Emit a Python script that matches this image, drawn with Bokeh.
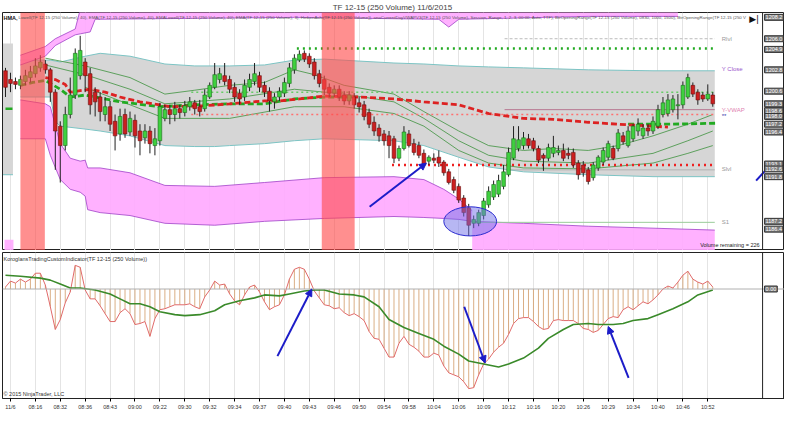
from bokeh.plotting import figure
from bokeh.layouts import column
from bokeh.models import (Range1d, FixedTicker, Label, Arrow, NormalHead, Span,
                          ColumnDataSource, BoxAnnotation)
from bokeh.embed import file_html
from bokeh.resources import INLINE

FONT = "Liberation Sans"

# ---------------- data ----------------
title_text = "TF 12-15 (250 Volume)  11/6/2015"
tick_bars = [1, 6, 11, 16, 21, 26, 31, 36, 41, 46, 51, 56, 61, 66, 71, 76, 81, 86,
             91, 96, 101, 106, 111, 116, 121, 126, 131, 136, 141]
tick_labels = ["11/6", "08:16", "08:32", "08:36", "08:43", "09:00", "09:22", "09:30",
               "09:32", "09:34", "09:37", "09:40", "09:43", "09:46", "09:50", "09:54",
               "09:58", "10:04", "10:06", "10:09", "10:12", "10:16", "10:20", "10:26",
               "10:29", "10:34", "10:40", "10:46", "10:52"]

opens = [1202.7,1201.8,1201.6,1201.2,1201.6,1202.0,1202.4,1203.0,1203.4,1202.8,
 1200.5,1197.0,1195.0,1198.2,1200.2,1202.2,1203.6,1202.4,1200.5,1200.0,
 1198.2,1199.0,1197.5,1196.2,1198.2,1196.4,1197.6,1196.5,1195.8,1196.5,
 1195.0,1195.5,1197.8,1198.7,1198.2,1198.8,1198.4,1199.0,1199.4,1199.0,
 1198.8,1200.0,1201.0,1201.8,1202.2,1201.8,1201.0,1200.4,1200.0,1201.0,
 1201.6,1202.2,1201.2,1200.6,1199.5,1200.0,1200.4,1201.4,1202.8,1203.8,
 1204.5,1204.2,1203.6,1202.4,1201.8,1201.0,1200.4,1200.8,1200.2,1199.6,
 1200.0,1199.4,1199.2,1198.4,1197.4,1196.8,1196.2,1196.0,1195.7,1193.7,
 1194.7,1196.2,1195.2,1195.0,1194.2,1193.4,1193.7,1193.8,1193.3,1192.3,
 1191.5,1190.8,1189.6,1188.6,1187.0,1187.0,1187.8,1188.9,1189.7,1190.0,
 1190.8,1192.0,1193.7,1194.7,1195.0,1195.7,1195.5,1194.7,1194.0,1193.7,
 1194.2,1194.3,1194.5,1194.2,1194.3,1193.2,1193.0,1192.5,1191.7,1192.7,
 1193.3,1193.8,1194.7,1194.7,1196.0,1195.0,1195.7,1196.5,1196.0,1196.8,
 1196.5,1197.0,1198.2,1198.3,1198.7,1199.1,1199.2,1200.0,1201.2,1200.5,
 1200.2,1199.8,1200.2]
closes = [1201.0,1201.4,1201.3,1201.8,1202.2,1202.6,1203.2,1203.6,1202.8,1200.5,
 1196.5,1195.0,1198.2,1200.2,1204.5,1204.8,1202.2,1199.2,1199.5,1198.5,
 1199.0,1197.2,1196.0,1198.0,1196.2,1197.8,1196.0,1195.5,1196.5,1195.2,
 1195.7,1199.0,1198.7,1198.2,1198.8,1198.4,1199.1,1199.5,1198.8,1198.5,
 1200.2,1201.2,1202.3,1202.4,1201.6,1200.8,1200.0,1199.8,1201.2,1201.8,
 1202.4,1201.0,1200.5,1199.6,1200.0,1200.6,1201.5,1203.0,1204.0,1204.4,
 1203.9,1203.4,1202.2,1201.4,1200.8,1200.4,1200.8,1200.0,1199.6,1200.2,
 1199.2,1199.0,1198.0,1197.2,1196.5,1196.0,1195.5,1195.0,1193.7,1194.7,
 1196.4,1195.0,1194.3,1194.0,1193.0,1193.8,1193.5,1193.2,1192.2,1191.2,
 1190.4,1189.4,1188.1,1186.8,1187.4,1188.1,1189.3,1190.3,1191.0,1191.4,
 1192.3,1194.3,1195.7,1195.6,1195.8,1195.0,1194.7,1193.5,1193.7,1194.8,
 1194.8,1194.5,1193.7,1194.0,1193.0,1192.0,1192.2,1191.3,1193.0,1193.8,
 1194.5,1195.2,1193.7,1196.3,1195.4,1196.5,1197.0,1197.2,1196.8,1196.5,
 1197.5,1198.7,1199.4,1199.7,1199.8,1199.2,1201.2,1202.0,1200.3,1199.7,
 1199.8,1200.3,1199.3]
highs = [1203.0,1202.5,1202.0,1202.2,1202.8,1203.2,1204.0,1204.3,1203.8,1203.0,
 1200.8,1197.5,1199.0,1202.0,1205.0,1206.3,1204.0,1203.0,1201.0,1200.5,
 1200.0,1199.6,1198.2,1198.8,1198.8,1198.5,1198.2,1197.2,1197.2,1197.0,
 1196.8,1199.4,1199.2,1199.2,1199.5,1199.2,1199.6,1200.0,1199.7,1199.7,
 1200.8,1201.5,1203.5,1203.0,1203.5,1202.2,1201.5,1200.8,1201.8,1202.4,
 1203.5,1202.6,1201.6,1201.0,1200.4,1201.0,1202.0,1203.5,1204.4,1204.8,
 1204.8,1204.5,1204.0,1202.8,1202.2,1201.4,1201.2,1201.2,1200.6,1200.6,
 1200.4,1200.0,1199.6,1198.8,1198.0,1197.2,1196.6,1196.5,1196.0,1195.0,
 1197.0,1196.6,1195.7,1195.4,1194.6,1194.0,1194.2,1194.5,1193.5,1192.6,
 1191.8,1191.1,1189.9,1189.0,1187.8,1188.4,1189.6,1190.8,1191.4,1192.0,
 1193.0,1194.8,1197.0,1197.0,1196.4,1196.2,1195.8,1195.0,1194.2,1195.2,
 1196.0,1195.0,1195.2,1194.8,1194.7,1193.5,1193.4,1192.8,1193.3,1194.0,
 1194.8,1195.5,1195.0,1196.7,1196.4,1197.0,1197.2,1197.8,1197.2,1197.2,
 1198.0,1199.2,1200.0,1200.3,1200.2,1200.3,1201.6,1202.4,1201.5,1200.8,
 1200.5,1201.3,1200.5]
lows = [1200.0,1200.5,1200.8,1200.8,1201.2,1201.5,1202.0,1202.6,1202.4,1199.5,
 1192.5,1191.2,1194.5,1197.8,1199.8,1201.8,1200.5,1198.2,1198.0,1197.5,
 1197.5,1196.5,1194.5,1195.5,1195.8,1196.0,1194.8,1194.0,1195.2,1194.2,
 1194.0,1195.0,1197.5,1197.2,1197.5,1197.8,1198.0,1198.6,1198.2,1198.0,
 1198.5,1199.8,1200.8,1201.4,1201.2,1200.4,1199.5,1199.2,1199.6,1200.6,
 1201.2,1200.5,1200.0,1198.5,1198.8,1199.6,1200.0,1201.0,1202.4,1203.6,
 1203.6,1203.0,1201.8,1201.0,1200.2,1200.0,1200.0,1199.6,1199.2,1199.2,
 1198.8,1198.4,1197.6,1196.8,1196.0,1195.4,1195.0,1193.7,1193.2,1193.4,
 1194.5,1194.8,1194.0,1193.7,1192.8,1193.0,1193.2,1192.8,1191.9,1191.0,
 1190.1,1189.1,1187.7,1185.7,1186.5,1186.7,1187.4,1188.6,1189.4,1189.7,
 1190.5,1191.8,1193.5,1194.4,1194.6,1194.7,1194.4,1193.2,1192.4,1193.4,
 1193.8,1194.0,1193.4,1193.6,1192.7,1191.5,1191.8,1191.0,1191.4,1192.4,
 1193.0,1193.5,1193.5,1194.4,1195.1,1194.8,1195.4,1196.0,1195.7,1196.0,
 1196.2,1196.7,1197.9,1198.0,1198.4,1197.7,1198.8,1199.8,1200.0,1199.2,
 1199.5,1199.6,1199.0]
bars = list(range(len(closes)))

osc = [0.2,0.8,0.6,1.0,0.7,1.0,1.6,1.6,0.4,-1.8,
 -4.1,-3.1,-1.4,-0.3,2.4,2.2,-0.1,-1.0,-1.0,-1.7,
 -2.5,-3.3,-3.3,-2.4,-2.0,-2.5,-3.6,-3.5,-3.3,-4.8,
 -3.0,-2.1,-2.0,-1.8,-1.6,-1.6,-1.6,-1.5,-1.8,-2.0,
 -0.8,-0.1,0.8,0.4,0.5,-0.5,-1.2,-1.6,-0.6,0.2,
 0.4,-0.3,-1.3,-2.1,-1.8,-1.6,-0.6,1.0,2.0,2.2,
 2.0,1.0,-0.2,-0.9,-1.6,-1.7,-2.0,-1.9,-2.4,-2.7,
 -2.5,-2.8,-3.2,-4.3,-5.0,-5.1,-6.0,-6.9,-6.9,-5.5,
 -4.8,-5.6,-5.9,-6.3,-6.9,-6.9,-6.5,-6.7,-7.8,-8.5,
 -8.7,-8.9,-9.4,-10.1,-10.0,-8.7,-7.6,-7.1,-6.4,-5.9,
 -5.5,-4.6,-3.5,-3.0,-2.9,-2.9,-3.3,-3.8,-4.1,-4.0,
 -3.2,-3.1,-3.2,-3.2,-3.2,-3.5,-4.0,-4.1,-4.4,-4.2,
 -3.6,-3.0,-2.8,-2.9,-2.1,-1.8,-2.1,-1.7,-1.3,-1.5,
 -1.1,-0.6,0.0,0.3,0.1,0.7,1.4,1.8,1.0,0.7,
 0.5,0.8,0.2]
sig_bars = [0,3,7,9,11,13,15,18,21,23,25,27,29,31,34,36,39,42,44,47,50,52,55,57,60,62,64,
            67,70,72,75,77,80,83,86,88,91,93,96,99,101,104,107,109,112,114,117,119,122,124,
            126,129,131,134,137,139,142]
sig = [1.4,1.3,1.1,0.9,0.5,0.1,0.1,-0.1,-0.5,-1.0,-1.5,-1.5,-1.8,-2.3,-2.6,-2.7,-2.6,-2.2,
       -1.6,-1.2,-0.9,-0.6,-0.7,-0.5,-0.2,-0.1,-0.1,-0.5,-0.6,-0.8,-1.8,-3.1,-3.9,-4.5,-5.1,
       -5.8,-6.6,-7.3,-7.6,-7.9,-7.6,-7.0,-6.0,-5.0,-4.1,-3.6,-3.5,-3.6,-3.6,-3.5,-3.2,-3.0,
       -2.6,-2.0,-1.3,-0.6,-0.1]

# gray envelope
gb_bars = [-0.5, 1.5]
gb_old_up = [1205.5, 1205.5]
gb_old_lo = [1192.0, 1192.0]
env_bars = [3, 9, 10, 11, 16, 19, 25, 32, 38, 42, 45, 52, 58, 64, 71, 78, 84, 91, 97, 104, 117, 130, 142.4]
env_up = [1203.8, 1203.8, 1203.7, 1203.6, 1204.2, 1204.5, 1204.2, 1203.4, 1203.2, 1203.2, 1203.2,
          1203.3, 1203.8, 1203.9, 1203.7, 1203.5, 1203.4, 1203.2, 1203.1, 1203.0, 1202.8, 1202.7, 1202.7]
env_lo = [1200.0, 1200.0, 1197.5, 1197.0, 1196.7, 1196.5, 1196.0, 1195.0, 1194.9, 1194.9, 1195.0,
          1195.2, 1195.5, 1195.7, 1195.6, 1195.5, 1195.0, 1193.8, 1192.8, 1192.3, 1192.0, 1191.8, 1191.8]

# magenta bands
mu_bars = [3, 8, 10, 14, 15, 17, 18, 58, 87, 89, 91, 117, 135]
mu_top = [1204.3, 1205.2, 1206.0, 1207.0, 1209.0, 1209.0, 1209.0, 1209.0, 1209.0, 1209.0, 1209.0, 1209.0, 1209.0]
mu_bot = [1203.3, 1204.2, 1205.3, 1206.4, 1206.5, 1206.7, 1208.0, 1208.2, 1208.0, 1207.2, 1208.0, 1208.3, 1208.3]
ma_bars = [3, 8, 9, 11, 13, 15, 16, 16.5, 19, 25, 32, 42, 52, 64, 78, 84, 88, 91, 93.7]
ma_top = [1199.7, 1199.3, 1199.0, 1195.2, 1193.7, 1193.4, 1193.5, 1192.7, 1192.7, 1192.2, 1190.9,
          1190.8, 1191.2, 1191.7, 1191.8, 1191.5, 1190.5, 1189.5, 1188.3]
ma_bot = [1195.7, 1195.7, 1194.0, 1191.5, 1190.5, 1190.2, 1189.8, 1188.4, 1188.1, 1187.8, 1187.0,
          1186.8, 1187.2, 1187.5, 1187.7, 1187.6, 1187.5, 1187.4, 1187.2]
mb_bars = [93.7, 104, 117, 130, 142.4]
mb_top = [1187.2, 1187.0, 1186.7, 1186.5, 1186.3]
mb_bot = [1183.0, 1183.0, 1183.0, 1183.0, 1183.0]
mold_bars = [-0.2, 1.6]
mold_top = [1185.3, 1185.3]
mold_bot = [1183.0, 1183.0]

# red session columns
red_start = [3.0, 63.5]
red_end = [7.9, 70.1]

# moving averages
red_ma_bars = [8, 10, 12, 13, 17, 20, 23, 27, 31, 33, 40, 45, 52, 55, 59, 64, 71, 78, 84, 91, 97,
               104, 110, 117, 123, 130, 133]
red_ma = [1202.0, 1201.8, 1201.3, 1200.5, 1200.8, 1200.5, 1200.0, 1199.5, 1199.2, 1199.0, 1199.1,
          1199.3, 1199.6, 1199.6, 1199.8, 1200.1, 1200.0, 1199.8, 1199.5, 1199.2, 1198.3, 1197.8,
          1197.7, 1197.4, 1197.2, 1197.0, 1196.9]
grn_ma1_bars = [3, 5.5, 8, 11, 13, 16, 23, 31, 38, 45, 52, 58, 64, 70]
grn_ma1 = [1201.2, 1201.5, 1201.7, 1200.8, 1200.0, 1200.2, 1199.5, 1199.0, 1199.2, 1199.3, 1199.3,
           1199.8, 1200.0, 1200.0]
grn_ma2_bars = [125, 133, 142.5]
grn_ma2 = [1197.2, 1197.2, 1197.3]
grn_old_bars = [0, 1.4]
grn_old = [1198.8, 1198.8]

g1_bars = [8, 16, 25, 32, 38, 45, 52, 58, 62, 68, 78, 84, 91, 97, 104, 110, 117, 123, 130, 137, 142]
g1 = [1204.0, 1203.2, 1202.0, 1200.3, 1200.7, 1201.2, 1201.5, 1202.8, 1202.3, 1201.2, 1200.3, 1198.5,
      1196.5, 1195.0, 1194.5, 1194.7, 1194.5, 1195.0, 1196.0, 1197.2, 1198.2]
g2_bars = [8, 16, 25, 32, 45, 58, 68, 78, 84, 91, 97, 104, 117, 130, 137, 142]
g2 = [1203.3, 1202.3, 1200.8, 1199.3, 1199.8, 1200.8, 1200.3, 1199.5, 1197.8, 1195.5, 1194.0, 1193.4,
      1193.2, 1194.2, 1195.5, 1196.5]
g3_bars = [16, 25, 32, 45, 58, 68, 78, 84, 91, 97, 104, 117, 130, 137, 142]
g3 = [1201.0, 1199.2, 1197.8, 1197.8, 1199.0, 1199.0, 1198.3, 1197.0, 1194.5, 1193.2, 1192.7, 1192.6,
      1193.2, 1194.2, 1195.0]

# horizontal levels: (start bar, end bar, price)
lvl_green_hi = (58.5, 142.4, 1205.0)
lvl_green_lt = (37.3, 142.4, 1200.5)
lvl_pink = (37.3, 142.4, 1198.2)
lvl_red = (77.6, 142.4, 1193.0)
lvl_rlvl = (100.2, 142.4, 1206.0)
lvl_yvwap = (100.2, 142.4, 1198.7)
lvl_slvl = (100.2, 142.4, 1192.5)
lvl_s1 = (94.0, 142.4, 1187.1)

right_texts = [("Rlvl", 1206.0, "#999999"), ("Y Close", 1202.9, "#9955cc"),
               ("Y-VWAP", 1198.7, "#e07fb0"), ("**", 1198.0, "#3333aa"),
               ("Slvl", 1192.6, "#999999"), ("S1", 1187.1, "#999999")]
axis_marks = [1208.2, 1206.0, 1204.9, 1202.8, 1200.6, 1199.3, 1198.6, 1198.0, 1197.2, 1196.4,
              1193.1, 1192.6, 1191.8, 1187.2, 1186.4]
axis_edge = 152.0

# annotations (bar, value)
arrow_top = (73.1, 1188.7, 84.5, 1193.2)
arrow_edge = (150.7, 1191.4, 152.5, 1192.4)
arrows_low = [(54.6, -6.8, 61.5, 0.0), (92.1, -1.8, 96.3, -7.5), (125.1, -9.0, 121.0, -3.8)]
ellipse_c = (93.3, 1187.2)
ellipse_wh = (10.6, 3.0)

legend_text = ("Lowell(TF 12-15 (250 Volume), 40), EMA(TF 12-15 (250 Volume), 40), EMALowell(TF 12-15 "
               "(250 Volume), 40), EMA(TF 12-15 (250 Volume), 3), HeikenAshi(TF 12-15 (250 Volume)), "
               "anaCurrentDayVWAPV3(TF 12-15 (250 Volume), Session, Range, 1, 2, 3, 00:00, Auto, TTF), "
               "BtrOpeningRange(TF 12-15 (250 Volume), 0830, 1000, 1500), BtrOpeningRange(TF 12-15 (250 V")

# ---------------- figures ----------------
xr = Range1d(-0.6, 156.4)
FW = 782

p1 = figure(frame_width=FW, frame_height=238, x_range=xr, y_range=Range1d(1184.2, 1208.7),
            output_backend="svg", toolbar_location=None, x_axis_location=None,
            y_axis_location=None, min_border_left=2, min_border_right=0,
            min_border_top=0, min_border_bottom=0)
p1.title.text = title_text
p1.title.align = "center"
p1.title.text_font = FONT
p1.title.text_font_size = "8px"
p1.title.text_font_style = "normal"
p1.title.text_color = "#444444"
p1.title.standoff = 1
p1.title.offset = 0
p1.outline_line_color = "#222222"
p1.xgrid.ticker = FixedTicker(ticks=tick_bars)
p1.xgrid.grid_line_color = "#e4e4e4"
p1.ygrid.visible = False

# gray envelopes
p1.varea(x=gb_bars, y1=gb_old_lo, y2=gb_old_up, fill_color="#d6d6d6")
p1.line(gb_bars, gb_old_lo, line_color="#7cc4c4", line_width=1)
p1.varea(x=env_bars, y1=env_lo, y2=env_up, fill_color="#d6d6d6")
p1.line(env_bars, env_up, line_color="#7cc4c4", line_width=1)
p1.line(env_bars, env_lo, line_color="#7cc4c4", line_width=1)

# magenta bands
MAG = "#ffa8ff"
EDGE = "#a040c8"
for bx, bt, bb in [(mu_bars, mu_top, mu_bot), (ma_bars, ma_top, ma_bot),
                   (mb_bars, mb_top, mb_bot), (mold_bars, mold_top, mold_bot)]:
    p1.varea(x=bx, y1=bb, y2=bt, fill_color=MAG, fill_alpha=0.9)
p1.line(mu_bars, mu_bot, line_color=EDGE, line_width=0.8)
p1.line(mu_bars[:5], mu_top[:5], line_color=EDGE, line_width=0.8)
p1.line(ma_bars, ma_top, line_color=EDGE, line_width=0.8)
p1.line(ma_bars, ma_bot, line_color=EDGE, line_width=0.8)
p1.line(mb_bars, mb_top, line_color=EDGE, line_width=0.8)

# thin green averages
for gx, gy in [(g1_bars, g1), (g2_bars, g2), (g3_bars, g3)]:
    p1.line(gx, gy, line_color="#4f9a4f", line_width=0.9)

# levels
def level(lv, color, width, dash):
    p1.line([lv[0], lv[1]], [lv[2], lv[2]], line_color=color, line_width=width, line_dash=dash)

level(lvl_rlvl, "#aaaaaa", 0.8, "3 2")
level(lvl_slvl, "#aaaaaa", 0.8, "solid")
level(lvl_yvwap, "#b06080", 0.8, "solid")
level(lvl_s1, "#99cc99", 1.0, "solid")
level(lvl_green_lt, "#66cc66", 1.5, "2 3")
level(lvl_pink, "#ff7070", 1.5, "2 3")
level(lvl_green_hi, "#22aa22", 2.6, "2 4")
level(lvl_red, "#ee2020", 2.6, "2 4")

# thick dashed averages
p1.line(grn_ma1_bars, grn_ma1, line_color="#22aa22", line_width=2.8, line_dash="6 3")
p1.line(grn_ma2_bars, grn_ma2, line_color="#22aa22", line_width=2.8, line_dash="6 3")
p1.line(grn_old_bars, grn_old, line_color="#22aa22", line_width=2.5)
p1.line(red_ma_bars, red_ma, line_color="#dd2222", line_width=2.8, line_dash="6 3")

# candles
src = ColumnDataSource(dict(
    x=bars, o=opens, c=closes, h=highs, l=lows,
    top=[max(a, b) for a, b in zip(opens, closes)],
    bot=[min(a, b) for a, b in zip(opens, closes)],
    fill=["#3fd03f" if c >= o else "#cc1f1f" for o, c in zip(opens, closes)],
    edge=["#1d6b1d" if c >= o else "#6b1010" for o, c in zip(opens, closes)],
))
p1.segment(x0="x", y0="l", x1="x", y1="h", source=src, line_color="#202020", line_width=1)
p1.vbar(x="x", width=0.74, top="top", bottom="bot", source=src, fill_color="fill",
        line_color="edge", line_width=0.6)

# red columns
for a, b in zip(red_start, red_end):
    p1.add_layout(BoxAnnotation(left=a, right=b, fill_color="#ff4a4a", fill_alpha=0.62,
                                line_color=None))

# ellipse
p1.ellipse(x=[ellipse_c[0]], y=[ellipse_c[1]], width=ellipse_wh[0], height=ellipse_wh[1],
           fill_color="#7070e8", fill_alpha=0.5, line_color="#2a2ad0", line_width=1)

BLUE = "#1c1cc8"
p1.add_layout(Arrow(end=NormalHead(size=7, fill_color=BLUE, line_color=BLUE),
                    x_start=arrow_top[0], y_start=arrow_top[1], x_end=arrow_top[2],
                    y_end=arrow_top[3], line_color=BLUE, line_width=2))
p1.line([arrow_edge[0], arrow_edge[2]], [arrow_edge[1], arrow_edge[3]], line_color=BLUE, line_width=2)

# right price-axis edge
p1.add_layout(Span(location=axis_edge, dimension="height", line_color="#222222", line_width=1))

# texts
p1.add_layout(Label(x=-0.4, y=1208.15, text="HMA,", text_font=FONT, text_font_size="5.5px",
                    text_font_style="bold", text_color="#111111", text_baseline="middle"))
p1.add_layout(Label(x=2.6, y=1208.15, text=legend_text, text_font=FONT, text_font_size="4.4px",
                    text_color="#555555", text_baseline="middle"))
for t, yv, col in right_texts:
    p1.add_layout(Label(x=143.8, y=yv, text=t, text_font=FONT, text_font_size="6px",
                        text_color=col, text_baseline="middle"))
p1.add_layout(Label(x=151.4, y=1184.75, text="Volume remaining = 226", text_font=FONT,
                    text_font_size="5.5px", text_color="#222222", text_align="right",
                    text_baseline="middle"))
p1.add_layout(Label(x=149.3, y=1208.0, text="▶|", text_font="DejaVu Sans", text_font_size="9px",
                    text_color="#111111", text_baseline="middle"))
for v in axis_marks:
    p1.add_layout(Label(x=152.4, y=v, text=f"{v:.1f}", text_font=FONT, text_font_size="5.5px",
                        text_color="#ffffff", text_baseline="middle", background_fill_color="#7d7d7d",
                        border_line_color="#333333", padding=1))

# ---------------- lower panel ----------------
p2 = figure(frame_width=FW, frame_height=146, x_range=xr, y_range=Range1d(-11.1, 3.7),
            output_backend="svg", toolbar_location=None, y_axis_location=None,
            min_border_left=2, min_border_right=0, min_border_top=2, min_border_bottom=0)
p2.outline_line_color = "#222222"
p2.xaxis.ticker = FixedTicker(ticks=tick_bars)
p2.xaxis.major_label_overrides = {b: t for b, t in zip(tick_bars, tick_labels)}
p2.xaxis.major_label_text_font = FONT
p2.xaxis.major_label_text_font_size = "5.5px"
p2.xaxis.major_label_text_color = "#333333"
p2.xaxis.major_label_standoff = 2
p2.xaxis.major_tick_out = 3
p2.xaxis.major_tick_in = 0
p2.xaxis.minor_tick_line_color = None
p2.xaxis.axis_line_color = "#222222"
p2.xgrid.grid_line_color = "#e4e4e4"
p2.ygrid.visible = False

p2.add_layout(Span(location=0, dimension="width", line_color="#b0b0b0", line_width=1))
osrc = ColumnDataSource(dict(x=bars, v=osc))
p2.segment(x0="x", y0=0, x1="x", y1="v", source=osrc, line_color="#d4a070", line_width=1,
           line_alpha=0.85)
p2.line("x", "v", source=osrc, line_color="#e06a6a", line_width=1)
p2.line(sig_bars, sig, line_color="#3a8a2a", line_width=1.6)

for a in arrows_low:
    p2.add_layout(Arrow(end=NormalHead(size=7, fill_color=BLUE, line_color=BLUE),
                        x_start=a[0], y_start=a[1], x_end=a[2], y_end=a[3],
                        line_color=BLUE, line_width=2))

p2.add_layout(Span(location=axis_edge, dimension="height", line_color="#222222", line_width=1))
p2.add_layout(Label(x=-0.4, y=3.0, text="KoroglansTradingCustomIndicator(TF 12-15 (250 Volume))",
                    text_font=FONT, text_font_size="5.5px", text_color="#333333",
                    text_baseline="middle"))
p2.add_layout(Label(x=-0.4, y=-10.6, text="© 2015 NinjaTrader, LLC", text_font=FONT,
                    text_font_size="5.5px", text_color="#333333", text_baseline="middle"))
p2.add_layout(Label(x=152.4, y=0.0, text="0.00", text_font=FONT, text_font_size="5.5px",
                    text_color="#ffffff", text_baseline="middle", background_fill_color="#7d7d7d",
                    border_line_color="#333333", padding=1))

layout = column(p1, p2, spacing=0)
open("out.html", "w").write(file_html(layout, INLINE))
